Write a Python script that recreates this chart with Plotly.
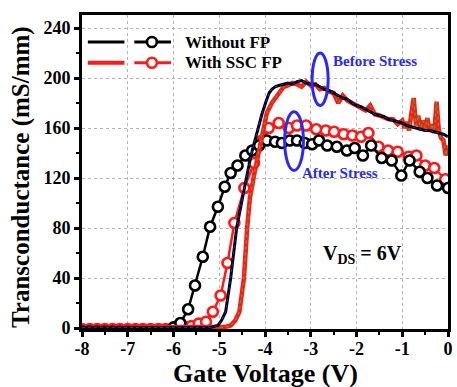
import plotly.graph_objects as go

FONT = "Liberation Serif"

# ---------------- data ----------------
# Before stress, without FP (black line)
v_bef_wo = [-8.0, -6.0, -5.2, -5.03, -4.95, -4.86, -4.75, -4.62, -4.49, -4.38, -4.28, -4.17,
            -4.06, -3.98, -3.91, -3.85, -3.78, -3.7, -3.59, -3.5, -3.4, -3.3, -3.2, -3.1, -3.0,
            -2.9, -2.8, -2.7, -2.6, -2.5, -2.4, -2.3, -2.2, -2.1, -2.0, -1.9, -1.8, -1.7, -1.6,
            -1.5, -1.4, -1.3, -1.2, -1.1, -1.0, -0.9, -0.8, -0.7, -0.6, -0.5, -0.4, -0.3, -0.2,
            -0.1, 0.0]
g_bef_wo = [0.3, 0.3, 0.5, 2, 6, 13, 40, 80, 105, 125, 142, 158,
            172, 181, 188, 191, 193, 194, 195, 196, 195, 197, 198, 196, 195,
            195, 193, 191, 190, 188, 186, 184, 183, 180, 178, 177, 175, 173, 171,
            170, 169, 167, 166, 165, 164, 162, 161, 160, 159, 158, 158, 157, 156,
            155, 153]

# Before stress, with SSC FP (red line)
v_bef_w = [-8.0, -6.0, -5.0, -4.85, -4.75, -4.65, -4.56, -4.46, -4.39, -4.33, -4.23, -4.13,
           -4.05, -3.96, -3.85, -3.7, -3.59, -3.5, -3.4, -3.3, -3.2, -3.1, -3.0, -2.9, -2.8,
           -2.7, -2.6, -2.5, -2.4, -2.3, -2.2, -2.1, -2.0, -1.9, -1.8, -1.7, -1.6, -1.5, -1.4,
           -1.3, -1.2, -1.1, -1.0, -0.95, -0.9, -0.85, -0.8, -0.75, -0.7, -0.65, -0.6, -0.55,
           -0.5, -0.45, -0.4, -0.35, -0.3, -0.25, -0.2, -0.15, -0.1, -0.05, 0.0]
g_bef_w = [0.2, 0.2, 0.3, 1, 2, 6, 13, 40, 80, 104, 124, 142,
           158, 172, 180, 188, 193, 194, 196, 195, 193, 197, 194, 195, 191,
           192, 189, 188, 180, 186, 182, 180, 178, 177, 174, 178, 171, 170, 168,
           167, 167, 163, 166, 160, 165, 158, 172, 184, 162, 170, 158, 166,
           160, 168, 157, 163, 156, 181, 158, 152, 150, 138, 146]

# After stress, without FP (black circles)
v_aft_wo = [-8.0, -7.83, -7.67, -7.5, -7.33, -7.17, -7.0, -6.83, -6.67, -6.5, -6.33, -6.17,
            -6.0, -5.85, -5.68, -5.53, -5.36, -5.2, -5.03, -4.88, -4.75, -4.6, -4.43, -4.28,
            -4.13, -3.96, -3.78, -3.63, -3.46, -3.3, -3.13, -2.97, -2.82, -2.64, -2.43, -2.21,
            -2.04, -1.86, -1.68, -1.45, -1.23, -1.02, -0.84, -0.62, -0.45, -0.24, 0.0]
g_aft_wo = [-2.5, -2.5, -2.5, -2.5, -2.5, -2.5, -2.5, -2.5, -2.5, -2.5, -2.5, -2.5,
            0.5, 4, 15, 34, 57, 81, 97, 113, 124, 130, 138, 142,
            146, 150, 149, 148, 150, 150, 148, 147, 150, 146, 145, 142,
            144, 138, 146, 136, 134, 122, 134, 125, 120, 114, 112]

# After stress, with SSC FP (red circles)
v_aft_w = [-8.0, -7.83, -7.67, -7.5, -7.33, -7.17, -7.0, -6.83, -6.67, -6.5, -6.33, -6.17,
           -6.0, -5.83, -5.7, -5.61, -5.45, -5.29, -5.14, -4.97, -4.82, -4.67, -4.45, -4.24,
           -4.06, -3.92, -3.7, -3.48, -3.3, -3.1, -2.88, -2.67, -2.49, -2.28, -2.09, -1.9,
           -1.74, -1.52, -1.31, -1.1, -0.86, -0.69, -0.5, -0.3, -0.06]
g_aft_w = [-0.8, -0.8, -0.8, -0.8, -0.8, -0.8, -0.8, -0.8, -0.8, -0.8, -0.8, -0.8,
           -0.8, -0.8, 0.3, 1.5, 3.5, 5, 13, 26, 52, 84, 112, 132,
           150, 160, 164, 160, 162, 162, 159, 158, 157, 155, 154, 153,
           156, 145, 142, 141, 137, 138, 130, 128, 119]

x_ticks = [-8, -7, -6, -5, -4, -3, -2, -1, 0]
x_tick_labels = ["-8", "-7", "-6", "-5", "-4", "-3", "-2", "-1", "0"]
y_ticks = [0, 40, 80, 120, 160, 200, 240]
y_tick_labels = ["0", "40", "80", "120", "160", "200", "240"]

legend_labels = ["Without FP", "With SSC FP"]

BLUE = "#2a2af0"
RED = "#ff1a1a"

fig = go.Figure()

# after stress circles
fig.add_trace(go.Scatter(x=v_aft_w, y=g_aft_w, mode="lines+markers",
                         line=dict(color=RED, width=2.5),
                         marker=dict(symbol="circle", size=10, color="white",
                                     line=dict(color=RED, width=2.6)),
                         showlegend=False))
fig.add_trace(go.Scatter(x=v_aft_wo, y=g_aft_wo, mode="lines+markers",
                         line=dict(color="black", width=2.5),
                         marker=dict(symbol="circle", size=10, color="white",
                                     line=dict(color="black", width=2.6)),
                         showlegend=False))
# before stress lines
fig.add_trace(go.Scatter(x=v_bef_w, y=g_bef_w, mode="lines",
                         line=dict(color=RED, width=4.5), showlegend=False))
fig.add_trace(go.Scatter(x=v_bef_w, y=g_bef_w, mode="lines",
                         line=dict(color="#22cc22", width=1, dash="dot"), showlegend=False))
fig.add_trace(go.Scatter(x=v_bef_wo, y=g_bef_wo, mode="lines",
                         line=dict(color="black", width=3), showlegend=False))
fig.add_trace(go.Scatter(x=v_bef_wo, y=g_bef_wo, mode="lines",
                         line=dict(color="#1030ff", width=1, dash="dot"), showlegend=False))

axis_common = dict(
    showline=True, linecolor="black", linewidth=3, mirror=True,
    ticks="outside", ticklen=5, tickwidth=2.5, tickcolor="black",
    showgrid=True, gridcolor="#b5b5b5", gridwidth=1, griddash="dot",
    zeroline=False,
    tickfont=dict(family=FONT, size=18, color="black", weight=700),
)

fig.update_xaxes(range=[-8, 0], tickvals=x_ticks,
                 ticktext=["<b>%s</b>" % t for t in x_tick_labels],
                 ticklabelstandoff=-4,
                 minor=dict(ticklen=3, tickwidth=2, tickcolor="black", dtick=0.5,
                            tick0=-8, showgrid=False),
                 **axis_common)
fig.update_yaxes(range=[-0.8, 250.4], tickvals=y_ticks,
                 ticktext=["<b>%s</b>" % t for t in y_tick_labels],
                 minor=dict(ticklen=3, tickwidth=2, tickcolor="black", dtick=20,
                            tick0=0, showgrid=False),
                 **axis_common)

shapes = []
annotations = []

# legend (drawn manually: line sample + line-with-circle sample)
rows = [(0.914, "black", "#1030ff", 3), (0.848, RED, "#22cc22", 4)]
for (py, col, dotcol, w), lab in zip(rows, legend_labels):
    shapes.append(dict(type="line", xref="paper", yref="paper", x0=0.016, x1=0.116,
                       y0=py, y1=py, line=dict(color=col, width=w)))
    shapes.append(dict(type="line", xref="paper", yref="paper", x0=0.143, x1=0.243,
                       y0=py, y1=py, line=dict(color=col, width=3)))
    shapes.append(dict(type="circle", xref="paper", yref="paper",
                       x0=0.191 - 0.0135, x1=0.191 + 0.0135,
                       y0=py - 0.0159, y1=py + 0.0159,
                       fillcolor="white", line=dict(color=col, width=2.6)))
    annotations.append(dict(xref="paper", yref="paper", x=0.275, y=py, xanchor="left",
                            yanchor="middle", showarrow=False,
                            text="<b>%s</b>" % lab,
                            font=dict(family=FONT, size=17, color="black")))

# ellipses
shapes.append(dict(type="circle", xref="x", yref="y", x0=-2.97, x1=-2.62, y0=178, y1=220,
                   line=dict(color=BLUE, width=3)))
shapes.append(dict(type="circle", xref="x", yref="y", x0=-3.57, x1=-3.16, y0=126, y1=173,
                   line=dict(color=BLUE, width=3)))

annotations.append(dict(xref="x", yref="y", x=-2.55, y=213.5, xanchor="left", yanchor="middle",
                        showarrow=False, text="<b>Before Stress</b>",
                        font=dict(family=FONT, size=15, color=BLUE)))
annotations.append(dict(xref="x", yref="y", x=-3.24, y=124, xanchor="left", yanchor="middle",
                        showarrow=False, text="<b>After Stress</b>",
                        font=dict(family=FONT, size=15, color=BLUE)))
annotations.append(dict(xref="paper", yref="paper", x=0.766, y=0.238, xanchor="center",
                        yanchor="middle", showarrow=False,
                        text="<b>V<sub>DS</sub> = 6V</b>",
                        font=dict(family=FONT, size=20, color="black")))

# axis titles
annotations.append(dict(xref="paper", yref="paper", x=0.501, y=-0.143, xanchor="center",
                        yanchor="middle", showarrow=False, text="<b>Gate Voltage (V)</b>",
                        font=dict(family=FONT, size=26, color="black")))
annotations.append(dict(xref="paper", yref="paper", x=-0.165, y=0.483, xanchor="center",
                        yanchor="middle", showarrow=False, textangle=-90,
                        text="<b>Transconductance (mS/mm)</b>",
                        font=dict(family=FONT, size=25, color="black")))

fig.update_layout(
    width=457, height=387,
    margin=dict(l=82, r=4, t=15, b=58),
    paper_bgcolor="white", plot_bgcolor="white",
    shapes=shapes, annotations=annotations,
    showlegend=False,
)

fig.write_html("out.html", config={"displayModeBar": False},
               post_script="document.body.style.margin='0';document.body.style.padding='0';")
